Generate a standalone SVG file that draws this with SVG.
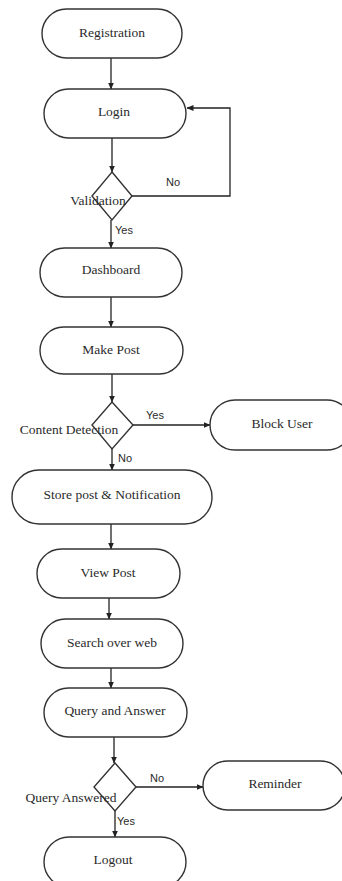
<svg xmlns="http://www.w3.org/2000/svg" width="342" height="881" viewBox="0 0 342 881">
<defs>
<marker id="arr" markerWidth="7" markerHeight="6" refX="6.5" refY="3" orient="auto" markerUnits="userSpaceOnUse">
<path d="M0,0 L7,3 L0,6 Z" fill="#222"/>
</marker>
<style>
.n{fill:#fff;stroke:#333;stroke-width:1.4}
.t{font-family:"Liberation Serif","Times New Roman",serif;font-size:13.5px;fill:#2a2a2a;text-anchor:middle}
.l{font-family:"Liberation Sans",Arial,sans-serif;font-size:11px;fill:#2a2a2a;text-anchor:middle}
.c{fill:none;stroke:#222;stroke-width:1.3;marker-end:url(#arr)}
.p{fill:none;stroke:#222;stroke-width:1.3}
</style>
</defs>
<rect width="342" height="881" fill="#fff"/>
<g id="connectors">
<line class="c" x1="111" y1="58" x2="111" y2="89"/>
<line class="c" x1="112" y1="138" x2="112" y2="172"/>
<polyline class="c" points="132,196 230,196 230,108 187,108"/>
<line class="c" x1="111" y1="220" x2="111" y2="248"/>
<line class="c" x1="111" y1="297" x2="111" y2="327"/>
<line class="c" x1="112" y1="374" x2="112" y2="402"/>
<line class="c" x1="133" y1="425" x2="210" y2="425"/>
<line class="c" x1="112" y1="449" x2="112" y2="470"/>
<line class="c" x1="111" y1="524" x2="111" y2="549"/>
<line class="c" x1="109" y1="598" x2="109" y2="619"/>
<line class="c" x1="111" y1="668" x2="111" y2="688"/>
<line class="c" x1="114" y1="737" x2="114" y2="763"/>
<line class="c" x1="136" y1="787" x2="203" y2="787"/>
<line class="c" x1="115" y1="811" x2="115" y2="837"/>
<text class="l" x="173" y="186">No</text>
<text class="l" x="124" y="234">Yes</text>
<text class="l" x="155" y="419">Yes</text>
<text class="l" x="125" y="462">No</text>
<text class="l" x="157" y="782">No</text>
<text class="l" x="126" y="825">Yes</text>
</g>
<g id="registration"><rect class="n" x="42" y="9" width="140" height="49" rx="24.5"/><text class="t" x="112" y="36.5">Registration</text></g>
<g id="login"><rect class="n" x="44" y="89" width="142" height="49" rx="24.5"/><text class="t" x="114" y="116">Login</text></g>
<g id="validation"><polygon class="n" points="112,172 132,196 112,220 92,196"/><text class="t" x="98" y="205">Validation</text></g>
<g id="dashboard"><rect class="n" x="40" y="248" width="142" height="49" rx="24.5"/><text class="t" x="111" y="274">Dashboard</text></g>
<g id="makepost"><rect class="n" x="40" y="327" width="143" height="47" rx="23.5"/><text class="t" x="111" y="354">Make Post</text></g>
<g id="contentdetection"><polygon class="n" points="112,402 133,425 112,449 92,425"/><text class="t" x="69" y="434">Content Detection</text></g>
<g id="blockuser"><rect class="n" x="210" y="400" width="142" height="50" rx="25"/><text class="t" x="282" y="428">Block User</text></g>
<g id="storepost"><rect class="n" x="12" y="470" width="200" height="54" rx="27"/><text class="t" x="112" y="499">Store post &amp; Notification</text></g>
<g id="viewpost"><rect class="n" x="37" y="549" width="143" height="49" rx="24.5"/><text class="t" x="108" y="577">View Post</text></g>
<g id="search"><rect class="n" x="41" y="619" width="142" height="49" rx="24.5"/><text class="t" x="112" y="647">Search over web</text></g>
<g id="queryanswer"><rect class="n" x="44" y="688" width="143" height="49" rx="24.5"/><text class="t" x="115" y="715">Query and Answer</text></g>
<g id="queryanswered"><polygon class="n" points="115,763 136,787 115,811 94,787"/><text class="t" x="71" y="802">Query Answered</text></g>
<g id="reminder"><rect class="n" x="203" y="761" width="142" height="49" rx="24.5"/><text class="t" x="275" y="788">Reminder</text></g>
<g id="logout"><rect class="n" x="44" y="837" width="142" height="50" rx="25"/><text class="t" x="113" y="864">Logout</text></g>
</svg>
